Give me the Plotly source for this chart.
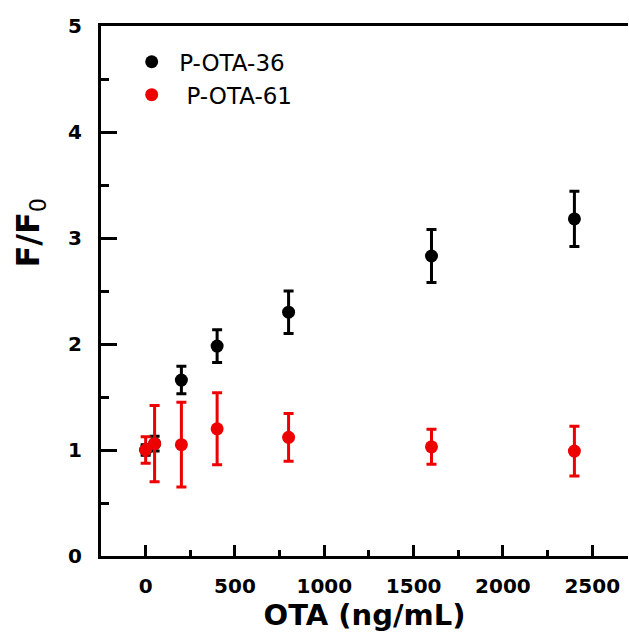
import plotly.graph_objects as go

# Data
x_vals = [0, 50, 200, 400, 800, 1600, 2400]
y36 = [1.00, 1.06, 1.66, 1.98, 2.30, 2.83, 3.18]
e36 = [0.05, 0.07, 0.13, 0.155, 0.20, 0.25, 0.26]
y61 = [1.00, 1.06, 1.05, 1.20, 1.12, 1.03, 0.99]
e61 = [0.125, 0.36, 0.40, 0.34, 0.225, 0.165, 0.235]

x_ticks = [0, 500, 1000, 1500, 2000, 2500]
y_ticks = [0, 1, 2, 3, 4, 5]

FONT = "DejaVu Sans"

fig = go.Figure()
fig.add_trace(go.Scatter(
    x=x_vals, y=y36, mode="markers", name="P-OTA-36",
    marker=dict(color="black", size=13),
    error_y=dict(type="data", array=e36, color="black", thickness=3, width=5),
))
fig.add_trace(go.Scatter(
    x=x_vals, y=y61, mode="markers", name=" P-OTA-61",
    marker=dict(color="#ee0000", size=13),
    error_y=dict(type="data", array=e61, color="#ee0000", thickness=3, width=5),
))

fig.update_layout(
    width=629, height=632,
    margin=dict(l=101, r=1, t=26, b=76, autoexpand=False),
    paper_bgcolor="white", plot_bgcolor="white",
    showlegend=True,
    legend=dict(x=0.044, y=0.973, xanchor="left", yanchor="top",
                bgcolor="rgba(0,0,0,0)", font=dict(family=FONT, size=23, color="black"),
                itemwidth=45, tracegroupgap=0),
    annotations=[dict(
        text="<b>F/F</b><sub>0</sub>", textangle=-90, showarrow=False,
        xref="paper", yref="paper", x=-0.135, y=0.61, xanchor="center", yanchor="middle",
        font=dict(family=FONT, size=32, color="black"),
    )],
)
fig.update_xaxes(
    range=[-250, 2700], tickvals=x_ticks, ticktext=[str(v) for v in x_ticks],
    showline=True, linecolor="black", linewidth=3, mirror=True,
    ticks="inside", ticklen=11, tickwidth=3, tickcolor="black",
    minor=dict(ticks="inside", ticklen=6, tickwidth=3, tickcolor="black", dtick=250, tick0=250),
    showgrid=False, zeroline=False, automargin=False,
    tickfont=dict(family=FONT, size=20, color="black", weight="bold"),
    ticklabelstandoff=10,
    title=dict(text="OTA (ng/mL)", font=dict(family=FONT, size=29, color="black", weight="bold"), standoff=4),
)
fig.update_yaxes(
    range=[0, 5], tickvals=y_ticks, ticktext=[str(v) for v in y_ticks],
    showline=True, linecolor="black", linewidth=3, mirror=False,
    ticks="inside", ticklen=16, tickwidth=3, tickcolor="black",
    minor=dict(ticks="inside", ticklen=8, tickwidth=3, tickcolor="black", dtick=0.5, tick0=0.5),
    showgrid=False, zeroline=False, automargin=False,
    tickfont=dict(family=FONT, size=20, color="black", weight="bold"),
    ticklabelstandoff=12,
)

fig.write_html("out.html", config={"displayModeBar": False},
               post_script="document.body.style.margin='0px';")
